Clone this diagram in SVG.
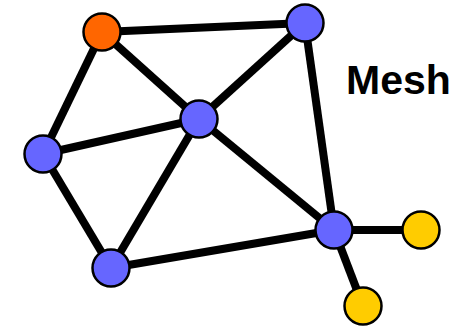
<svg xmlns="http://www.w3.org/2000/svg" width="468" height="326" viewBox="0 0 468 326">
<style>
.e{stroke:#000;stroke-width:8;fill:none}
.n{stroke:#000;stroke-width:2.5}
.b{fill:#6666ff}
.o{fill:#ff6600}
.y{fill:#ffcc00}
.t{font-family:"Liberation Sans",Arial,sans-serif;font-weight:bold;font-size:41px;fill:#000}
</style>
<rect width="468" height="326" fill="#fff"/>
<g id="connectors">
<line class="e" x1="102" y1="32" x2="305" y2="23"/>
<line class="e" x1="102" y1="32" x2="43" y2="154"/>
<line class="e" x1="102" y1="32" x2="199" y2="119"/>
<line class="e" x1="305" y1="23" x2="199" y2="119"/>
<line class="e" x1="305" y1="23" x2="334" y2="230"/>
<line class="e" x1="43" y1="154" x2="199" y2="119"/>
<line class="e" x1="43" y1="154" x2="111" y2="268"/>
<line class="e" x1="199" y1="119" x2="111" y2="268"/>
<line class="e" x1="199" y1="119" x2="334" y2="230"/>
<line class="e" x1="111" y1="268" x2="334" y2="230"/>
<line class="e" x1="334" y1="230" x2="421" y2="230"/>
<line class="e" x1="334" y1="230" x2="363" y2="306"/>
</g>
<g id="n1"><circle class="n o" cx="102" cy="32" r="18.5"/></g>
<g id="n2"><circle class="n b" cx="305" cy="23" r="18.5"/></g>
<g id="n3"><circle class="n b" cx="199" cy="119" r="18.5"/></g>
<g id="n4"><circle class="n b" cx="43" cy="154" r="18.5"/></g>
<g id="n5"><circle class="n b" cx="111" cy="268" r="18.5"/></g>
<g id="n6"><circle class="n b" cx="334" cy="230" r="18.5"/></g>
<g id="n7"><circle class="n y" cx="421" cy="230" r="18.5"/></g>
<g id="n8"><circle class="n y" cx="363" cy="306" r="18.5"/></g>
<g id="label"><text class="t" x="346" y="94">Mesh</text></g>
</svg>
